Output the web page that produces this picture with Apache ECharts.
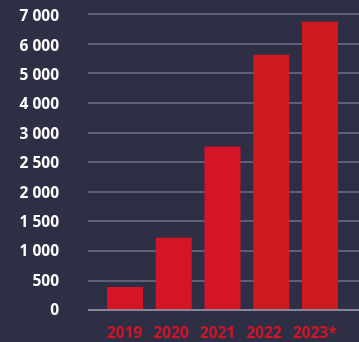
<!DOCTYPE html>
<html>
<head>
<meta charset="utf-8">
<script src="https://cdn.jsdelivr.net/npm/echarts@6/dist/echarts.min.js"></script>
<style>
  html, body { margin: 0; padding: 0; background: #2e2f45; }
  #chart { width: 359px; height: 342px; }
</style>
</head>
<body>
<div id="chart"></div>
<script>
// Years shown along the bottom
const years = ['2019', '2020', '2021', '2022', '2023*'];
// Yearly totals
const totals = [390, 1220, 2760, 5620, 6740];
// Tick values of the vertical scale (steps of 500 up to 3 000, then 1 000)
const tickValues = [0, 500, 1000, 1500, 2000, 2500, 3000, 4000, 5000, 6000, 7000];
// Bar fills per year
const barColors = ['#d51426', '#d51426', '#d51426', '#cf1b1f', '#cf1b1f'];

// The scale is evenly spaced per tick, so map a value onto its tick position
function toTickPos(v) {
  for (let i = 1; i < tickValues.length; i++) {
    if (v <= tickValues[i]) {
      const lo = tickValues[i - 1], hi = tickValues[i];
      return (i - 1) + (v - lo) / (hi - lo);
    }
  }
  return tickValues.length - 1;
}
function fmt(v) {
  return String(v).replace(/\B(?=(\d{3})+(?!\d))/g, ' ');
}

const chart = echarts.init(document.getElementById('chart'), null, { renderer: 'canvas' });
const maxPos = tickValues.length - 1;
const font = '"Open Sans", "Noto Sans", sans-serif';

chart.setOption({
  backgroundColor: '#2e2f45',
  animation: false,
  grid: [
    // gridlines
    { left: 88, right: 0, top: 14, bottom: 32 },
    // bars
    { left: 100.6, right: 14.6, top: 14, bottom: 32 },
    // value labels column
    { left: 88, right: 0, top: 17, bottom: 31.5 },
    // year labels row
    { left: 83.75, right: 42.75, top: 14, bottom: 32 }
  ],
  xAxis: [
    { type: 'value', gridIndex: 0, show: false, min: 0, max: 1 },
    { type: 'category', gridIndex: 1, data: years, show: false },
    { type: 'value', gridIndex: 2, show: false, min: 0, max: 1 },
    {
      type: 'category', gridIndex: 3, data: years,
      axisLine: { show: false }, axisTick: { show: false },
      axisLabel: {
        interval: 0, hideOverlap: false, align: 'left',
        color: '#d31426', fontFamily: font, fontWeight: 'bold', fontSize: 15.5, margin: 16
      }
    }
  ],
  yAxis: [
    {
      type: 'value', gridIndex: 0, min: 0, max: maxPos, interval: 1,
      axisLine: { show: false }, axisTick: { show: false }, axisLabel: { show: false },
      splitLine: { show: true, lineStyle: { color: '#6f7085', width: 1.5 } }
    },
    { type: 'value', gridIndex: 1, min: 0, max: maxPos, interval: 1, show: false, splitLine: { show: false } },
    {
      type: 'value', gridIndex: 2, min: 0, max: maxPos, interval: 1,
      axisLine: { show: false }, axisTick: { show: false }, splitLine: { show: false },
      axisLabel: {
        color: '#ffffff', fontFamily: font, fontWeight: 'bold', fontSize: 15.5, margin: 29,
        formatter: (v) => fmt(tickValues[Math.round(v)])
      }
    },
    { type: 'value', gridIndex: 3, min: 0, max: maxPos, show: false, splitLine: { show: false } }
  ],
  series: [
    {
      type: 'bar', xAxisIndex: 1, yAxisIndex: 1, barWidth: 36,
      data: totals.map((v, i) => ({ value: toTickPos(v), itemStyle: { color: barColors[i] } })),
      z: 3
    },
    {
      // baseline under the bars
      type: 'line', xAxisIndex: 0, yAxisIndex: 0, symbol: 'none', silent: true,
      data: [[0, 0], [1, 0]], lineStyle: { color: '#85869a', width: 2 }, z: 4
    }
  ]
});
</script>
</body>
</html>
